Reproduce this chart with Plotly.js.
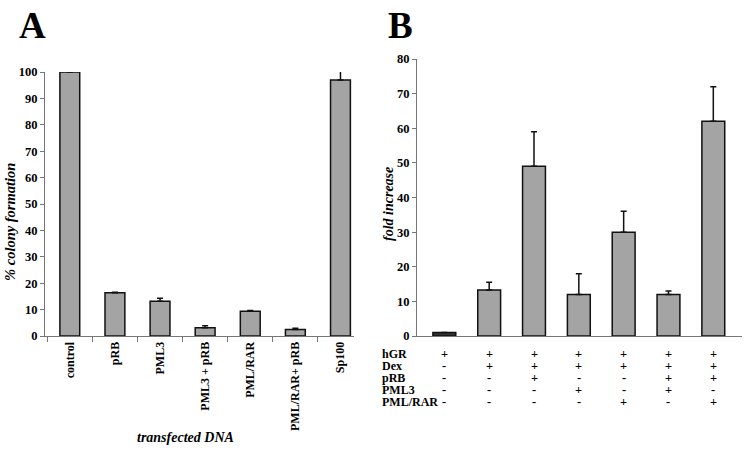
<!DOCTYPE html>
<html>
<head>
<meta charset="utf-8">
<script src="https://cdn.plot.ly/plotly-3.0.1.min.js"></script>
<style>html,body{margin:0;padding:0;background:#fff;}#chart{width:754px;height:450px;}</style>
</head>
<body>
<div id="chart"></div>
<script>
// Panel A data
const catsA = ["control", "pRB", "PML3", "PML3 + pRB", "PML/RAR", "PML/RAR+ pRB", "Sp100"];
const valsA = [100, 16.4, 13.2, 3.1, 9.4, 2.5, 97];
const errA = [0.2, 0.2, 1.1, 0.8, 0.3, 0.4, 3.5];

// Panel B data
const catsB = ["c1", "c2", "c3", "c4", "c5", "c6", "c7"];
const valsB = [1, 13.3, 49, 12, 30, 12, 62];
const errB = [0, 2.2, 10, 6, 6, 1, 10];
const rowLabelsB = ["hGR", "Dex", "pRB", "PML3", "PML/RAR"];
const tableB = [
  ["+", "+", "+", "+", "+", "+", "+"],
  ["-", "+", "+", "+", "+", "+", "+"],
  ["-", "-", "+", "-", "-", "+", "+"],
  ["-", "-", "-", "+", "-", "+", "-"],
  ["-", "-", "-", "-", "+", "-", "+"]
];

const FONT = "Liberation Serif";
const W = 754, H = 450;
const px = x => x / W;
const py = y => 1 - y / H;

const barA = {
  type: "bar", x: catsA, y: valsA, xaxis: "x", yaxis: "y",
  width: 0.44,
  marker: { color: "#a4a4a4", line: { color: "#111", width: 1.5 } },
  error_y: { type: "data", array: errA, arrayminus: errA.map(() => 0), symmetric: false,
             color: "#111", thickness: 1.5, width: 3 },
  hoverinfo: "none"
};
const barB = {
  type: "bar", x: catsB, y: valsB, xaxis: "x2", yaxis: "y2",
  width: 0.51,
  marker: { color: valsB.map((v, i) => i === 0 ? "#333" : "#a4a4a4"), line: { color: "#111", width: 1.5 } },
  error_y: { type: "data", array: errB, arrayminus: errB.map(() => 0), symmetric: false,
             color: "#111", thickness: 1.5, width: 3 },
  hoverinfo: "none"
};

const tickFont = { family: FONT, size: 12.5, color: "#000", weight: "bold" };

function ann(text, x, y, extra) {
  return Object.assign({ text: text, x: x, y: y, xref: "paper", yref: "paper", showarrow: false,
    xanchor: "center", yanchor: "middle" }, extra);
}

const annotations = [
  ann("A", px(32), py(25), { font: { family: FONT, size: 37, weight: "bold", color: "#000" } }),
  ann("B", px(400), py(25), { font: { family: FONT, size: 37, weight: "bold", color: "#000" } }),
  ann("% colony formation", px(10), py(222), { textangle: -90,
    font: { family: FONT, size: 14.5, weight: "bold", style: "italic", color: "#000" } }),
  ann("transfected DNA", px(185), py(437), {
    font: { family: FONT, size: 14, weight: "bold", style: "italic", color: "#000" } }),
  ann("fold increase", px(388), py(204), { textangle: -90,
    font: { family: FONT, size: 14, weight: "bold", style: "italic", color: "#000" } })
];
const rowY = [354, 366, 378, 390, 402];
rowLabelsB.forEach((lab, r) => {
  annotations.push(ann(lab, px(380), py(rowY[r]), { xanchor: "left",
    font: { family: FONT, size: 12, weight: "bold", color: "#000" } }));
  tableB[r].forEach((s, c) => {
    annotations.push(ann(s, catsB[c], py(rowY[r]), { xref: "x2",
      font: { family: FONT, size: 12.5, weight: "bold", color: "#000" } }));
  });
});

const layout = {
  width: W, height: H,
  margin: { l: 0, r: 0, t: 0, b: 0 },
  paper_bgcolor: "#fff", plot_bgcolor: "#fff",
  showlegend: false,
  font: { family: FONT },
  xaxis: {
    domain: [px(45), px(354)], range: [-0.55, 6.3], anchor: "y",
    showline: true, linecolor: "#777", linewidth: 1,
    ticks: "outside", tickson: "boundaries", ticklen: 5, tickcolor: "#777",
    tickangle: -90, tickfont: { family: FONT, size: 12, color: "#000", weight: "bold" },
    showgrid: false, zeroline: false
  },
  yaxis: {
    domain: [py(336), py(72)], range: [0, 100], dtick: 10, anchor: "x",
    showline: true, linecolor: "#777", linewidth: 1,
    ticks: "outside", ticklen: 4, tickcolor: "#777",
    tickfont: tickFont, showgrid: false, zeroline: false
  },
  xaxis2: {
    domain: [px(417), px(742)], range: [-0.61, 6.64], anchor: "y2",
    showline: true, linecolor: "#777", linewidth: 1,
    ticks: "", showticklabels: false, showgrid: false, zeroline: false
  },
  yaxis2: {
    domain: [py(336), py(59)], range: [0, 80], dtick: 10, anchor: "x2",
    showline: true, linecolor: "#777", linewidth: 1,
    ticks: "outside", ticklen: 4, tickcolor: "#777",
    tickfont: tickFont, showgrid: false, zeroline: false
  },
  annotations: annotations
};

Plotly.newPlot("chart", [barA, barB], layout, { displayModeBar: false, staticPlot: true });
</script>
</body>
</html>
